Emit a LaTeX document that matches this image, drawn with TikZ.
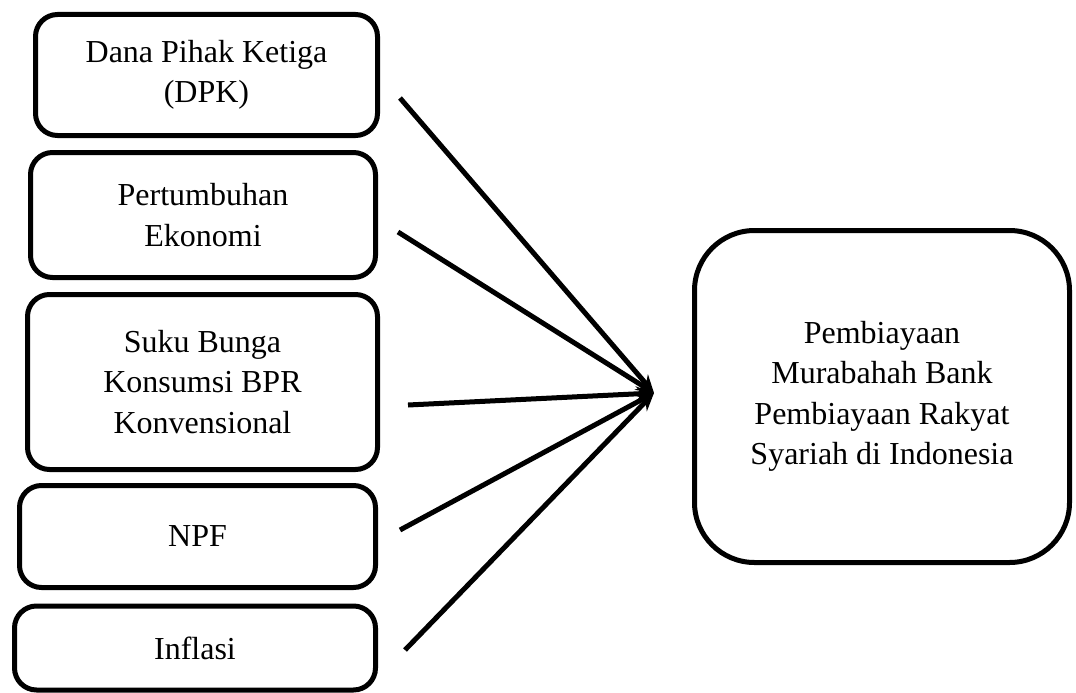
\documentclass[tikz,border=0pt]{standalone}
\usepackage{fontspec}
\setmainfont{Liberation Serif}
\usetikzlibrary{arrows.meta}

\tikzset{
  box/.style={draw, line width=5pt, rounded corners=22pt, align=center,
    font=\fontsize{32}{40.5}\selectfont, inner sep=0pt},
  arr/.style={line width=5pt, -{Stealth[length=18pt,width=15pt]}}
}

\begin{document}
\begin{tikzpicture}[x=1pt,y=-1pt]
\useasboundingbox (0,0) rectangle (1076,693);
% variabel bebas
\node[box, minimum width=342pt, minimum height=121pt] (dpk) at (206.5,75) {Dana Pihak Ketiga\\(DPK)};
\node[box, minimum width=345pt, minimum height=125pt] (growth) at (203,215) {Pertumbuhan\\Ekonomi};
\node[box, minimum width=350pt, minimum height=175pt] (rate) at (202.5,382) {Suku Bunga\\Konsumsi BPR\\Konvensional};
\node[box, minimum width=356pt, minimum height=102pt] (npf) at (197.5,536.5) {NPF};
\node[box, minimum width=361pt, minimum height=84pt] (inflasi) at (195,648) {Inflasi};
% variabel terikat
\node[box, rounded corners=60pt, minimum width=375pt, minimum height=332pt] (murabahah) at (882,396.5)
  {Pembiayaan\\Murabahah Bank\\Pembiayaan Rakyat\\Syariah di Indonesia};
% panah
\coordinate (tip) at (654,393);
\coordinate (s1) at (400,98);
\coordinate (s2) at (398,232);
\coordinate (s3) at (408,405);
\coordinate (s4) at (400,530);
\coordinate (s5) at (405,650);
\foreach \s in {s1,s2,s3,s4,s5} { \draw[arr] (\s) -- (tip); }
\end{tikzpicture}
\end{document}
